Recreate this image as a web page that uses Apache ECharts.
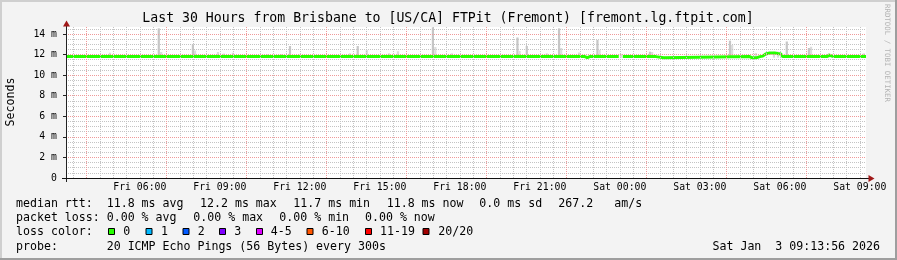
<!DOCTYPE html>
<html><head><meta charset="utf-8">
<script src="https://cdn.jsdelivr.net/npm/echarts@6/dist/echarts.min.js"></script>
<style>html,body{margin:0;padding:0;background:#f3f3f3}#c{width:897px;height:260px}</style>
</head><body><div id="c"></div>
<script>
// ---------- data ----------
const titleText = 'Last 30 Hours from Brisbane to [US/CA] FTPit (Fremont) [fremont.lg.ftpit.com]';
const startHour = 3.2322;   // Fri 03:13:56 (hours since Fri 00:00)
const endHour = 33.2322;    // Sat 09:13:56
const xTickHours = [6, 9, 12, 15, 18, 21, 24, 27, 30, 33];
const xTickLabels = ['Fri 06:00','Fri 09:00','Fri 12:00','Fri 15:00','Fri 18:00','Fri 21:00','Sat 00:00','Sat 03:00','Sat 06:00','Sat 09:00'];
const majorGridHours = [4, 7, 10, 13, 16, 19, 22, 25, 28, 31];
const yTicks = [0, 2, 4, 6, 8, 10, 12, 14];
const yTickLabels = ['0','2 m','4 m','6 m','8 m','10 m','12 m','14 m'];
const yMax = 14.68;

// median rtt (ms) line
const medianTime  = [3.2322, 22.69, 22.78, 22.87, 23.96, 24.03, 24.11, 25.35, 25.42, 25.65, 25.72, 28.87, 28.95, 29.14, 29.25, 29.36, 29.47, 29.62, 29.81, 29.92, 30.04, 30.11, 31.76, 31.86, 31.95, 32.03, 33.2322];
const medianValue = [11.8, 11.8, 11.7, 11.8, 11.8, null, 11.8, 11.8, 11.7, 11.7, 11.8, 11.8, 11.7, 11.7, 11.8, 11.85, 12.05, 12.15, 12.15, 12.1, 12.05, 11.8, 11.8, 11.95, 11.85, 11.8, 11.8];

// smoke (ping spread) per 5-minute sample: start hour, top (ms), shade (0 dark, 1 light)
const smokeTime  = [4.19, 4.84, 6.67, 6.76, 7.95, 8.03, 8.89, 9.11, 9.45, 10.76, 11.25, 11.59, 11.96, 13.84, 14.13, 14.47, 15.30, 15.64, 16.95, 17.04, 17.66, 19.24, 20.12, 20.20, 20.47, 21.22, 21.68, 21.76, 22.43, 23.12, 23.20, 24.00, 25.09, 25.17, 28.09, 28.17, 29.06, 29.74, 29.89, 30.22, 31.05, 31.13, 31.80, 33.11];
const smokeTop   = [11.96, 12.18, 14.55, 12.25, 13.0, 12.4, 12.25, 12.1, 12.18, 12.03, 12.05, 12.83, 12.0, 12.12, 12.83, 12.44, 12.12, 12.32, 14.65, 12.74, 12.12, 11.96, 13.66, 12.35, 12.83, 12.12, 14.55, 12.64, 12.2, 13.42, 12.44, 12.05, 12.28, 12.25, 13.35, 12.93, 12.15, 12.28, 12.28, 13.27, 12.64, 12.76, 12.12, 12.12];
const smokeShade = [1, 1, 0, 1, 0, 1, 1, 1, 1, 1, 1, 0, 1, 1, 0, 1, 1, 1, 0, 1, 1, 1, 0, 1, 0, 1, 0, 1, 1, 0, 1, 1, 0, 1, 0, 1, 1, 1, 1, 0, 0, 1, 1, 1];
const smokeBottom = 11.7;

// legend statistics
const rttLabel = 'median rtt:';
const rttStats = ['11.8 ms avg', '12.2 ms max', '11.7 ms min', '11.8 ms now', '0.0 ms sd', '267.2', 'am/s'];
const lossLabel = 'packet loss:';
const lossStats = ['0.00 % avg', '0.00 % max', '0.00 % min', '0.00 % now'];
const lossColorLabel = 'loss color:';
const lossBins = ['0', '1', '2', '3', '4-5', '6-10', '11-19', '20/20'];
const lossBinColors = ['#26ff00', '#00b8ff', '#0059ff', '#7e00ff', '#dd00ff', '#ff5500', '#ff0000', '#a10000'];
const probeLabel = 'probe:';
const probeText = '20 ICMP Echo Pings (56 Bytes) every 300s';
const dateText = 'Sat Jan  3 09:13:56 2026';
const watermark = 'RRDTOOL / TOBI OETIKER';

// ---------- layout ----------
const MONO = '"DejaVu Sans Mono", monospace';
const LF = '11.6px ' + MONO;
const rttX = [106.7, 200, 293.3, 386.7, 479.3, 558.3, 614.3];
const lossX = [106.7, 193.3, 279.3, 365];
const binBoxX = [108, 145.5, 182.5, 219, 256, 306.5, 365, 422.5];
const binTextX = [123.3, 161, 197.7, 234.3, 270.7, 321.7, 380, 438.3];
const L1 = 204.3, L2 = 218.3, L3 = 231.7, L4 = 246.7;

const smokeColors = ['#c6c6c6', '#dcdcdc'];

// grid lines (positions only)
const minorV = [];
for (let h = 3.5; h <= 33.01; h += 0.5) if (!majorGridHours.includes(h)) minorV.push(h);
const minorH = [];
for (let v = 0.5; v <= 14.51; v += 0.5) if (v % 2 !== 0) minorH.push(v);

const dotGray = { color: '#c4c4c4', width: 1, type: [1, 1] };
const dotRed = { color: '#f09a9a', width: 1, type: [1, 1] };
const markData = []
  .concat(minorV.map(h => ({ xAxis: h, lineStyle: dotGray })))
  .concat(minorH.map(v => ({ yAxis: v, lineStyle: dotGray })))
  .concat(majorGridHours.map(h => ({ xAxis: h, lineStyle: dotRed })))
  .concat(yTicks.filter(v => v > 0).map(v => ({ yAxis: v, lineStyle: dotRed })));

function txt(text, x, y, opts) {
  return Object.assign({ type: 'text', silent: true, z: 10,
    style: Object.assign({ text: text, x: x, y: y, font: LF, fill: '#000',
      textAlign: 'left', textVerticalAlign: 'middle', align: 'left', verticalAlign: 'middle' }, opts || {}) });
}

const graphics = [];
// 3D border
graphics.push({ type: 'rect', silent: true, shape: { x: 0, y: 0, width: 897, height: 2 }, style: { fill: '#cfcfcf' } });
graphics.push({ type: 'rect', silent: true, shape: { x: 0, y: 0, width: 2, height: 260 }, style: { fill: '#cfcfcf' } });
graphics.push({ type: 'rect', silent: true, shape: { x: 0, y: 258, width: 897, height: 2 }, style: { fill: '#9e9e9e' } });
graphics.push({ type: 'rect', silent: true, shape: { x: 895, y: 0, width: 2, height: 260 }, style: { fill: '#9e9e9e' } });
// title
graphics.push(txt(titleText, 448, 19, { font: '13.2px ' + MONO, textAlign: 'center', align: 'center' }));
// axis lines + arrows
graphics.push({ type: 'line', silent: true, z: 20, shape: { x1: 66.5, y1: 182, x2: 66.5, y2: 24 }, style: { stroke: '#222', lineWidth: 1 } });
graphics.push({ type: 'line', silent: true, z: 20, shape: { x1: 62, y1: 178.5, x2: 870, y2: 178.5 }, style: { stroke: '#111', lineWidth: 1 } });
graphics.push({ type: 'polygon', silent: true, z: 21, shape: { points: [[66.5, 20.5], [63, 26.5], [70, 26.5]] }, style: { fill: '#a01818' } });
graphics.push({ type: 'polygon', silent: true, z: 21, shape: { points: [[874.5, 178.5], [868.5, 175], [868.5, 182]] }, style: { fill: '#a01818' } });
// y title
graphics.push({ type: 'text', silent: true, x: 10.5, y: 102, rotation: Math.PI / 2,
  style: { text: 'Seconds', x: 0, y: 0, font: LF, fill: '#000', textAlign: 'center', textVerticalAlign: 'middle', align: 'center', verticalAlign: 'middle' } });
// watermark
graphics.push({ type: 'text', silent: true, x: 886.5, y: 53, rotation: -Math.PI / 2,
  style: { text: watermark, x: 0, y: 0, font: '7.4px ' + MONO, fill: '#b4b4b4', textAlign: 'center', textVerticalAlign: 'middle', align: 'center', verticalAlign: 'middle' } });
// legend line 1
graphics.push(txt(rttLabel, 16, L1));
rttStats.forEach((s, i) => graphics.push(txt(s, rttX[i], L1)));
// line 2
graphics.push(txt(lossLabel, 16, L2));
lossStats.forEach((s, i) => graphics.push(txt(s, lossX[i], L2)));
// line 3
graphics.push(txt(lossColorLabel, 16, L3));
lossBins.forEach((s, i) => {
  graphics.push({ type: 'rect', silent: true, z: 10, shape: { x: binBoxX[i] + 0.5, y: 228.5, width: 6, height: 6 },
    style: { fill: lossBinColors[i], stroke: '#000', lineWidth: 1 } });
  graphics.push(txt(s, binTextX[i], L3));
});
// line 4
graphics.push(txt(probeLabel, 16, L4));
graphics.push(txt(probeText, 106.7, L4));
graphics.push(txt(dateText, 880, L4, { textAlign: 'right', align: 'right' }));

const chart = echarts.init(document.getElementById('c'), null, { renderer: 'canvas' });
chart.setOption({
  animation: false,
  backgroundColor: '#f3f3f3',
  grid: { left: 66, right: 31, top: 27, bottom: 82, show: true, backgroundColor: '#ffffff', borderWidth: 0 },
  xAxis: {
    type: 'value', min: startHour, max: endHour,
    axisLine: { show: false }, axisTick: { show: false }, splitLine: { show: false },
    axisLabel: {
      customValues: xTickHours, margin: 4,
      formatter: v => { const i = xTickHours.findIndex(h => Math.abs(h - v) < 1e-6); return i >= 0 ? xTickLabels[i] : ''; },
      fontFamily: MONO, fontSize: 9.8, color: '#000'
    }
  },
  yAxis: {
    type: 'value', min: 0, max: yMax,
    axisLine: { show: false }, splitLine: { show: false },
    axisTick: { show: true, customValues: yTicks, length: 3, lineStyle: { color: '#222' } },
    axisLabel: {
      customValues: yTicks, margin: 9,
      formatter: v => { const i = yTicks.findIndex(t => Math.abs(t - v) < 1e-6); return i >= 0 ? yTickLabels[i] : ''; },
      fontFamily: MONO, fontSize: 9.8, color: '#000'
    }
  },
  series: [
    {
      type: 'line', z: 1, silent: true, symbol: 'none', data: [[startHour, 0]], lineStyle: { opacity: 0 },
      markLine: { silent: true, symbol: ['none', 'none'], label: { show: false }, animation: false, data: markData }
    },
    {
      type: 'custom', z: 2, silent: true,
      data: smokeTime.map((t, i) => [t, smokeBottom, smokeTop[i], smokeShade[i]]),
      renderItem: (params, api) => {
        const t = api.value(0), lo = api.value(1), hi = api.value(2), sh = api.value(3);
        const p1 = api.coord([t, hi]);
        const p2 = api.coord([t + 1 / 12, lo]);
        return { type: 'rect', shape: { x: p1[0], y: p1[1], width: p2[0] - p1[0], height: p2[1] - p1[1] },
                 style: { fill: smokeColors[sh] } };
      }
    },
    {
      type: 'line', z: 3, silent: true, symbol: 'none', connectNulls: false,
      data: medianTime.map((t, i) => [t, medianValue[i] === null ? '-' : medianValue[i]]),
      lineStyle: { color: '#26ff00', width: 3 }
    }
  ],
  graphic: { elements: graphics }
});
</script></body></html>
